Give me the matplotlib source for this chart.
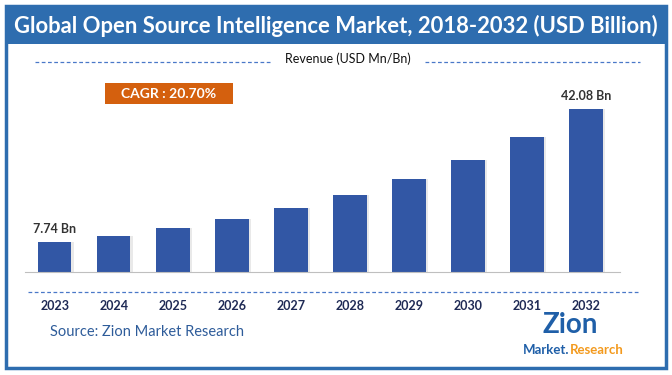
import matplotlib.pyplot as plt
import numpy as np

# Data
years = ['2023', '2024', '2025', '2026', '2027', '2028', '2029', '2030', '2031', '2032']
revenue = [7.74, 9.3, 11.3, 13.6, 16.4, 19.8, 23.9, 28.9, 34.9, 42.08]
labels = {0: '7.74 Bn', 9: '42.08 Bn'}

title = 'Global Open Source Intelligence Market, 2018-2032 (USD Billion)'
cagr = 'CAGR : 20.70%'
source = 'Source: Zion Market Research'

plt.rcParams['font.family'] = ['Lato', 'DejaVu Sans']

W, H = 672, 375
fig = plt.figure(figsize=(W / 100, H / 100), dpi=100)

# background / decoration axes in pixel coordinates
bg = fig.add_axes([0, 0, 1, 1])
bg.set_xlim(0, W)
bg.set_ylim(H, 0)
bg.axis('off')

blue = '#2E6DAF'
bg.add_patch(plt.Rectangle((6, 6), 660, 362, fill=False, ec=blue, lw=2.5))
bg.add_patch(plt.Rectangle((6, 6), 660, 38, color=blue, lw=0))
bg.text(336, 26, title, color='white', fontsize=15.8, fontweight='bold',
        ha='center', va='center')

# Revenue header with dashed lines
bg.plot([35, 270], [62, 62], ls=(0, (3, 2)), color='#4A78C8', lw=0.9)
bg.plot([425, 640], [62, 62], ls=(0, (3, 2)), color='#4A78C8', lw=0.9)
bg.text(348, 59, 'Revenue (USD Mn/Bn)', fontsize=9, color='#111111',
        ha='center', va='center')

# CAGR box
bg.add_patch(plt.Rectangle((105, 83), 128, 21, color='#D4600E', lw=0))
bg.text(169, 94, cagr, color='white', fontsize=10, fontweight='bold',
        ha='center', va='center')

# dashed line below the axis
bg.plot([28, 640], [292, 292], ls=(0, (3, 2)), color='#4A78C8', lw=0.9)

# source
bg.text(50, 332, source, color='#2E5C9A', fontsize=10.5, ha='left', va='center')

# logo approximation
bg.text(570, 325, 'Zion', color='#1F5FA8', fontsize=20, fontweight='bold',
        ha='center', va='center')
bg.text(569, 350, 'Market.', color='#1F5FA8', fontsize=9.5, fontweight='bold',
        ha='right', va='center')
bg.text(570, 350, 'Research', color='#F39A1E', fontsize=9.5, fontweight='bold',
        ha='left', va='center')

# bar chart axes
left_px, right_px, base_px, top_px = 25, 620, 272, 80
scale = 42.08 / 163.0
ax = fig.add_axes([left_px / W, 1 - base_px / H, (right_px - left_px) / W,
                   (base_px - top_px) / H])
ax.patch.set_alpha(0)
x = np.arange(len(years))
ax.bar(x + 0.05, revenue, width=0.56, color='#D5D5D5', alpha=0.5, zorder=1)
ax.bar(x, revenue, width=0.56, color='#3257A5', zorder=2)
ax.set_xlim(-0.508, 9.576)
ax.set_ylim(0, (base_px - top_px) * scale)
for i, txt in labels.items():
    ax.text(i, revenue[i] + 1.8, txt, ha='center', va='bottom', fontsize=9,
            fontweight='bold', color='#333333')
for s in ['top', 'right', 'left']:
    ax.spines[s].set_visible(False)
ax.spines['bottom'].set_color('#BFBFBF')
ax.set_yticks([])
ax.set_xticks(x)
ax.set_xticklabels(years, fontsize=9, fontweight='bold', color='#1F2A55')
ax.tick_params(axis='x', length=0, pad=20)

fig.savefig('out.png', dpi=100)
